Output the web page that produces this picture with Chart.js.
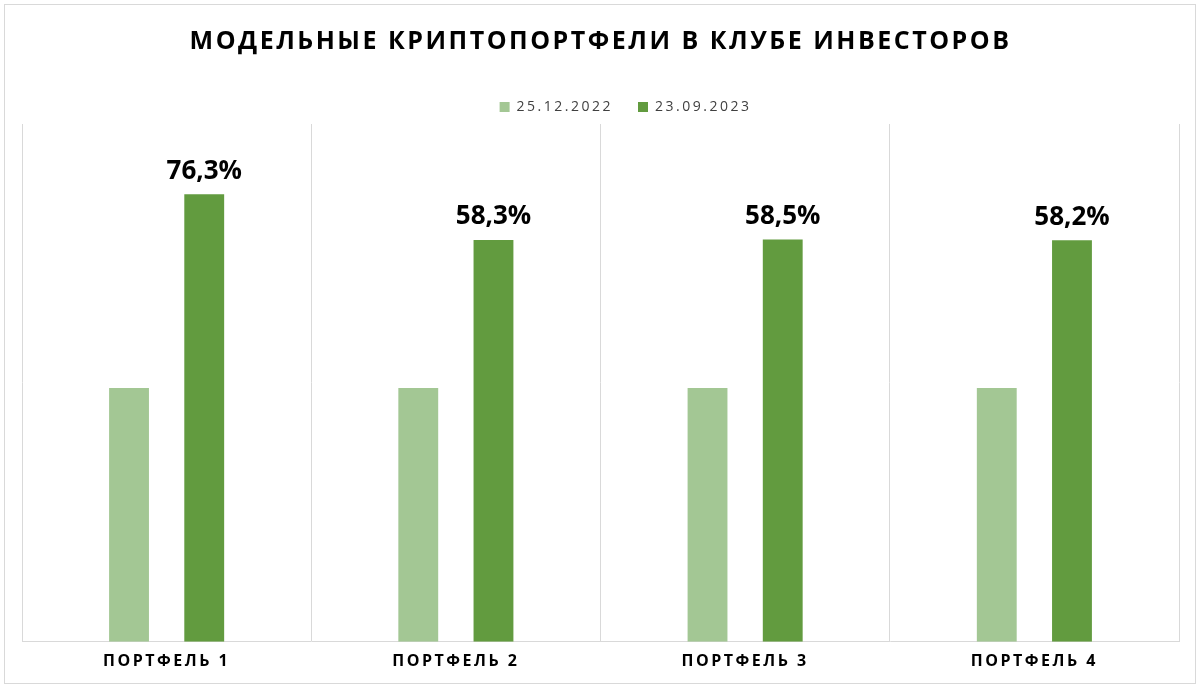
<!DOCTYPE html>
<html><head><meta charset="utf-8">
<script src="https://cdn.jsdelivr.net/npm/chart.js@4"></script>
<style>
html,body{margin:0;padding:0;background:#fff;}
#wrap{position:absolute;left:4px;top:4px;width:1190px;height:678px;border:1px solid #d9d9d9;}
</style></head>
<body><div id="wrap"><canvas id="c"></canvas></div>
<script>
const categories = ['ПОРТФЕЛЬ 1', 'ПОРТФЕЛЬ 2', 'ПОРТФЕЛЬ 3', 'ПОРТФЕЛЬ 4'];
const startValues = [100, 100, 100, 100];
const endValues = [176.3, 158.3, 158.5, 158.2];
const growthLabels = ['76,3%', '58,3%', '58,5%', '58,2%'];

const spacing = {
  id: 'spacing',
  beforeDraw(chart) { chart.ctx.letterSpacing = '2.5px'; },
  afterDatasetsDraw(chart) {
    const ctx = chart.ctx;
    const meta = chart.getDatasetMeta(1);
    ctx.save();
    ctx.letterSpacing = '0px';
    ctx.font = 'bold 26px "Open Sans", sans-serif';
    ctx.fillStyle = '#000';
    ctx.textAlign = 'center';
    ctx.textBaseline = 'bottom';
    meta.data.forEach((bar, i) => ctx.fillText(growthLabels[i], bar.x, bar.y - 10));
    ctx.restore();
  }
};

new Chart(document.getElementById('c'), {
  type: 'bar',
  data: {
    labels: categories,
    datasets: [
      { label: '25.12.2022', data: startValues, backgroundColor: '#a3c794' },
      { label: '23.09.2023', data: endValues, backgroundColor: '#629b3f' }
    ]
  },
  options: {
    responsive: true,
    maintainAspectRatio: false,
    animation: false,
    categoryPercentage: 0.52,
    barPercentage: 0.53,
    layout: { padding: { left: 17, right: 16, top: 10, bottom: 2 } },
    scales: {
      x: {
        grid: { display: true, color: '#d9d9d9', drawTicks: false },
        border: { color: '#d9d9d9' },
        ticks: { color: '#000', font: { family: '"Open Sans", sans-serif', size: 16, weight: 'bold' }, padding: 10 }
      },
      y: { display: false, min: 0, max: 204 }
    },
    plugins: {
      title: {
        display: true,
        text: 'МОДЕЛЬНЫЕ КРИПТОПОРТФЕЛИ В КЛУБЕ ИНВЕСТОРОВ',
        color: '#000',
        font: { family: '"Open Sans", sans-serif', size: 25, weight: 'bold' },
        padding: { top: 12, bottom: 18 }
      },
      legend: {
        labels: { color: '#404040', boxWidth: 10, boxHeight: 10, padding: 25, font: { family: '"Open Sans", sans-serif', size: 14 } }
      },
      tooltip: { enabled: false }
    }
  },
  plugins: [spacing]
});
</script></body></html>
